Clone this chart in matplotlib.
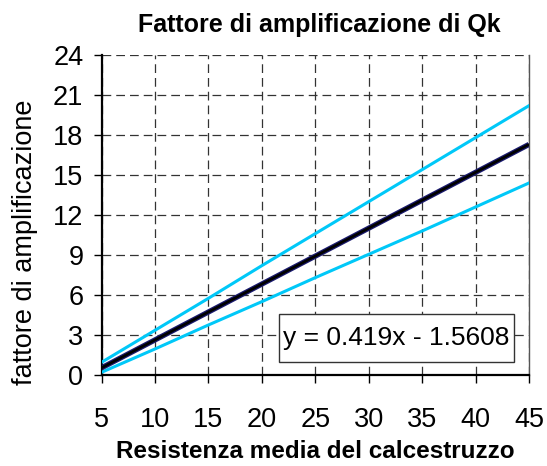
import matplotlib.pyplot as plt
from matplotlib.patches import Rectangle

plt.rcParams['font.family'] = ['Liberation Sans', 'DejaVu Sans']

# resistenza media del calcestruzzo
resistenza = [5, 10, 15, 20, 25, 30, 35, 40, 45]

# curve limite (superiore e inferiore)
limite_sup = [0.95, 3.35, 5.75, 8.2, 10.6, 13.0, 15.4, 17.8, 20.2]
limite_inf = [0.2, 1.95, 3.75, 5.5, 7.3, 9.05, 10.8, 12.6, 14.4]

# linea di tendenza
pendenza = 0.419
intercetta = -1.5608
tendenza = [pendenza * x + intercetta for x in resistenza]

x_ticks = [5, 10, 15, 20, 25, 30, 35, 40, 45]
y_ticks = [0, 3, 6, 9, 12, 15, 18, 21, 24]

fig = plt.figure(figsize=(5.47, 4.66), dpi=100)
ax = fig.add_axes([0.1856, 0.1953, 0.7815, 0.6867])

ax.plot(resistenza, limite_sup, color='#00c8f8', lw=2.2, zorder=3)
ax.plot(resistenza, limite_inf, color='#00c8f8', lw=2.2, zorder=3)
ax.plot(resistenza, tendenza, color='#1a1a6e', lw=3.8, zorder=4,
        solid_capstyle='butt')
ax.plot(resistenza, tendenza, color='black', lw=2.0, zorder=5,
        solid_capstyle='butt')

ax.set_xlim(5, 45)
ax.set_ylim(0, 24)
ax.set_xticks(x_ticks)
ax.set_yticks(y_ticks)
ax.tick_params(axis='x', direction='out', length=6, width=1, pad=17,
               labelsize=19.5)
ax.tick_params(axis='y', direction='out', length=6, width=1, pad=7,
               labelsize=19.5)

ax.grid(True, color='#333333', linestyle=(0, (7, 4)), linewidth=0.9)
ax.set_axisbelow(True)

ax.spines['top'].set_visible(False)
ax.spines['right'].set_color('#555555')
ax.spines['right'].set_linewidth(1.0)
ax.spines['left'].set_linewidth(1.6)
ax.spines['bottom'].set_linewidth(1.6)

# riquadro con l'equazione della retta
ax.add_patch(Rectangle((0.415, 0.04), 0.55, 0.15, transform=ax.transAxes,
                       facecolor='white', edgecolor='#333333', lw=1.0,
                       zorder=6))
ax.text(0.69, 0.115, 'y = %.3fx - %.4f' % (pendenza, -intercetta),
        transform=ax.transAxes, ha='center', va='center', fontsize=19,
        zorder=7)

fig.text(0.583, 0.946, 'Fattore di amplificazione di Qk', ha='center',
         va='center', fontsize=18, fontweight='bold')
fig.text(0.576, 0.032, 'Resistenza media del calcestruzzo', ha='center',
         va='center', fontsize=17.5, fontweight='bold')
fig.text(0.046, 0.48, 'fattore di amplificazione', rotation=90,
         ha='center', va='center', fontsize=19.5)

fig.savefig('out.png', dpi=100)
